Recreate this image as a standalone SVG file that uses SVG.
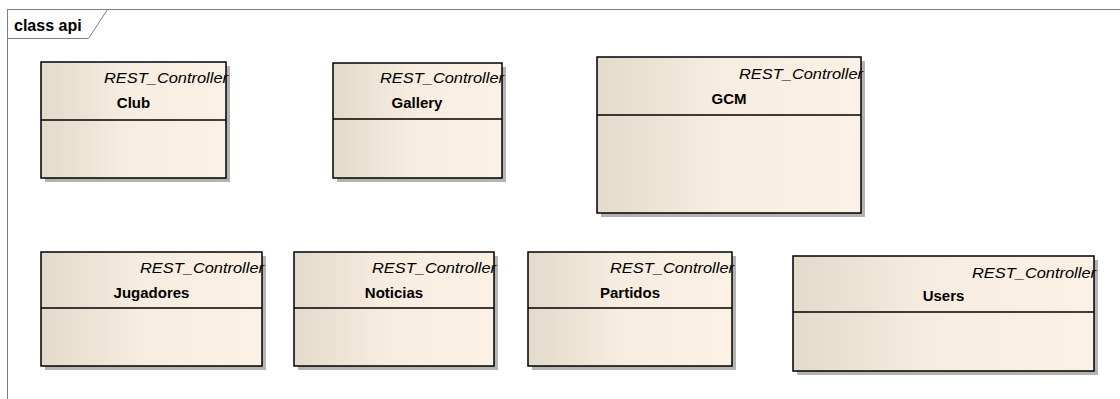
<svg xmlns="http://www.w3.org/2000/svg" width="1120" height="399" viewBox="0 0 1120 399">
  <style>
    .frame { fill: none; stroke: #7f7f7f; stroke-width: 1; }
    .tab { fill: #ffffff; stroke: #7f7f7f; stroke-width: 1; }
    .title { font-family: "Liberation Sans", Arial, sans-serif; font-size: 16px; font-weight: bold; fill: #000; }
    .shadow { fill: #b3b3b3; }
    .box { fill: url(#classFill); stroke: #000; stroke-width: 1.5; }
    .div { stroke: #000; stroke-width: 1.5; }
    .stereo { font-family: "Liberation Sans", Arial, sans-serif; font-size: 15px; font-style: italic; fill: #000; text-anchor: end; }
    .name { font-family: "Liberation Sans", Arial, sans-serif; font-size: 15px; font-weight: bold; fill: #000; text-anchor: middle; }
  </style>
  <defs>
    <linearGradient id="classFill" x1="0" y1="0" x2="1" y2="0">
      <stop offset="0" stop-color="#e3dacb"/>
      <stop offset="0.45" stop-color="#f6ecdf"/>
      <stop offset="1" stop-color="#fbf1e4"/>
    </linearGradient>
  </defs>
  <rect width="1120" height="399" fill="#ffffff"/>

  <!-- package frame -->
  <g id="frame">
    <path class="frame" d="M7.5,399 V9.5 H1120"/>
    <path class="tab" d="M7.5,9.5 H107.5 L88.5,38.5 H7.5 Z"/>
    <text class="title" x="14" y="31">class api</text>
  </g>

  <g id="connectors"></g>

  <g id="Club">
    <rect class="shadow" x="45" y="66" width="185" height="116"/>
    <rect class="box" x="41" y="62" width="185" height="116"/>
    <line class="div" x1="41" y1="120" x2="226" y2="120"/>
    <text class="stereo" x="228" y="83" textLength="124" lengthAdjust="spacingAndGlyphs">REST_Controller</text>
    <text class="name" x="133.5" y="108">Club</text>
  </g>

  <g id="Gallery">
    <rect class="shadow" x="337" y="67" width="169" height="115"/>
    <rect class="box" x="333" y="63" width="169" height="115"/>
    <line class="div" x1="333" y1="119" x2="502" y2="119"/>
    <text class="stereo" x="504" y="83" textLength="124" lengthAdjust="spacingAndGlyphs">REST_Controller</text>
    <text class="name" x="417" y="108">Gallery</text>
  </g>

  <g id="GCM">
    <rect class="shadow" x="601" y="61" width="264" height="156"/>
    <rect class="box" x="597" y="57" width="264" height="156"/>
    <line class="div" x1="597" y1="115" x2="861" y2="115"/>
    <text class="stereo" x="863" y="79" textLength="124" lengthAdjust="spacingAndGlyphs">REST_Controller</text>
    <text class="name" x="729" y="104">GCM</text>
  </g>

  <g id="Jugadores">
    <rect class="shadow" x="45" y="256" width="221" height="114"/>
    <rect class="box" x="41" y="252" width="221" height="114"/>
    <line class="div" x1="41" y1="308" x2="262" y2="308"/>
    <text class="stereo" x="264" y="273" textLength="124" lengthAdjust="spacingAndGlyphs">REST_Controller</text>
    <text class="name" x="151.5" y="298">Jugadores</text>
  </g>

  <g id="Noticias">
    <rect class="shadow" x="298" y="256" width="200" height="114"/>
    <rect class="box" x="294" y="252" width="200" height="114"/>
    <line class="div" x1="294" y1="308" x2="494" y2="308"/>
    <text class="stereo" x="496" y="273" textLength="124" lengthAdjust="spacingAndGlyphs">REST_Controller</text>
    <text class="name" x="394" y="298">Noticias</text>
  </g>

  <g id="Partidos">
    <rect class="shadow" x="532" y="256" width="204" height="114"/>
    <rect class="box" x="528" y="252" width="204" height="114"/>
    <line class="div" x1="528" y1="308" x2="732" y2="308"/>
    <text class="stereo" x="734" y="273" textLength="124" lengthAdjust="spacingAndGlyphs">REST_Controller</text>
    <text class="name" x="630" y="298">Partidos</text>
  </g>

  <g id="Users">
    <rect class="shadow" x="797" y="260" width="301" height="115"/>
    <rect class="box" x="793" y="256" width="301" height="115"/>
    <line class="div" x1="793" y1="312" x2="1094" y2="312"/>
    <text class="stereo" x="1096" y="278" textLength="124" lengthAdjust="spacingAndGlyphs">REST_Controller</text>
    <text class="name" x="943.5" y="301">Users</text>
  </g>
</svg>
